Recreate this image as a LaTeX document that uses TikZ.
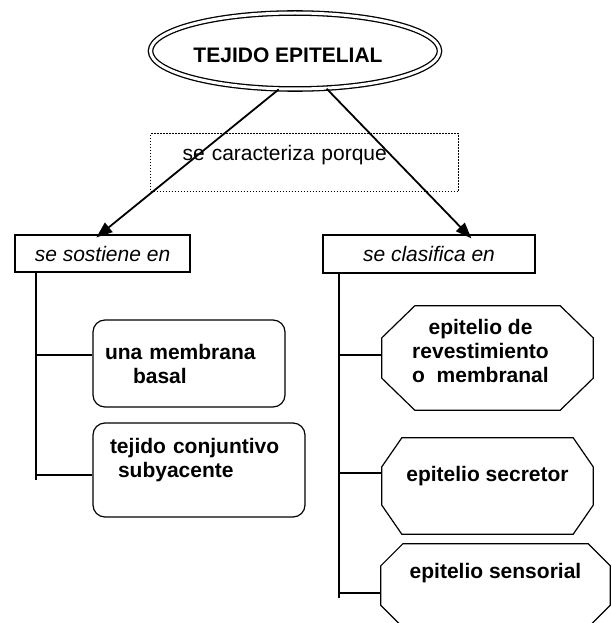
\documentclass[tikz,border=0pt]{standalone}
\usepackage{fontspec}
\setmainfont{Liberation Sans}
\usetikzlibrary{shapes,arrows.meta,positioning,calc}

\tikzset{
    every node/.style={font=\fontsize{21}{24}\selectfont},
    plainbox/.style={draw, line width=1.2pt, inner sep=0pt, font=\fontsize{21}{24}\selectfont\itshape},
    roundbox/.style={draw, line width=1.2pt, rounded corners=12pt, align=left, font=\fontsize{21}{24}\selectfont\bfseries},
    octbox/.style={rectangle, inner sep=0pt, align=center, font=\fontsize{21}{24}\selectfont\bfseries},
    octline/.style={line width=1.2pt, line join=miter},
    link/.style={line width=1.8pt, -{Triangle[length=16pt,width=12pt]}},
    trunk/.style={line width=1.3pt}
}

% octagon frame round a node: name, horizontal cut, vertical cut
\newcommand{\octframe}[3]{%
    \draw[octline] ($(#1.north west)+(#2,0)$) -- ($(#1.north east)+(-#2,0)$)
        -- ($(#1.north east)+(0,#3)$) -- ($(#1.south east)+(0,-#3)$)
        -- ($(#1.south east)+(-#2,0)$) -- ($(#1.south west)+(#2,0)$)
        -- ($(#1.south west)+(0,-#3)$) -- ($(#1.north west)+(0,#3)$) -- cycle;}

\begin{document}
\begin{tikzpicture}[x=1pt,y=-1pt]
    \useasboundingbox (0,0) rectangle (611,623);
    \node[ellipse, draw, double, line width=1.3pt, double distance=3pt, minimum width=289pt, minimum height=76pt, inner sep=0pt, text height=23pt, font=\fontsize{21}{24}\selectfont\bfseries] (tejido) at (295,51) {TEJIDO EPITELIAL\hspace*{14pt}};
    \node[draw, line width=1.2pt, dash pattern=on 1.2pt off 1.8pt, inner sep=0pt, text width=308pt, align=left, text height=26.5pt, text depth=31.5pt, anchor=north west] (carac) at (150,133) {\hspace*{32pt}se caracteriza porque};

    \node[plainbox, minimum width=175pt, minimum height=37pt] (sost) at (102.5,253.5) {se sostiene en};
    \node[plainbox, minimum width=212pt, minimum height=38pt] (clas) at (429,254) {se clasifica en};

    \node[roundbox, minimum width=192pt, minimum height=87pt, text width=168pt, inner xsep=12pt] (memb) at (189,363.5) {una membrana\\\hspace*{28pt}basal};
    \node[roundbox, minimum width=212pt, minimum height=94pt, text width=178pt, inner xsep=17pt] (conj) at (199,470) {tejido conjuntivo\\\hspace*{8pt}subyacente\\~};

    \node[octbox, minimum width=211pt, minimum height=104pt] (revest) at (487.5,358) {epitelio de\rule{14pt}{0pt}\\revestimiento\rule{14pt}{0pt}\\o\ \ membranal\rule{14pt}{0pt}\\[-10pt]~};
    \node[octbox, minimum width=211pt, minimum height=96pt] (secret) at (487.5,486) {epitelio secretor\\~};
    \node[octbox, minimum width=229pt, minimum height=83pt] (sensor) at (495.5,585.5) {epitelio sensorial\\[6pt]~};
    \octframe{revest}{33}{32}
    \octframe{secret}{20}{29}
    \octframe{sensor}{22}{22}

    \draw[link] (tejido.247) -- ([shift={(82pt,-3pt)}]sost.north west);
    \draw[link] (tejido.310) -- ([shift={(149pt,-4pt)}]clas.north west);

    \coordinate (sostend) at (36,480);
    \coordinate (clasend) at (339,598);
    \draw[trunk] (sost.south -| sostend) -- (sostend);
    \draw[trunk] (clas.south -| clasend) -- (clasend);

    \coordinate (bmemb) at ($(memb.west)+(0,-8.5)$);
    \coordinate (bconj) at ($(conj.west)+(0,5)$);
    \coordinate (brevest) at ($(revest.west)+(0,-3)$);
    \coordinate (bsecret) at ($(secret.west)+(0,-13)$);
    \coordinate (bsensor) at ($(sensor.west)+(0,7.5)$);
    \draw[trunk] (bmemb) -- (bmemb -| sostend);
    \draw[trunk] (bconj) -- (bconj -| sostend);
    \draw[trunk] (brevest) -- (brevest -| clasend);
    \draw[trunk] (bsecret) -- (bsecret -| clasend);
    \draw[trunk] (bsensor) -- (bsensor -| clasend);
\end{tikzpicture}
\end{document}
